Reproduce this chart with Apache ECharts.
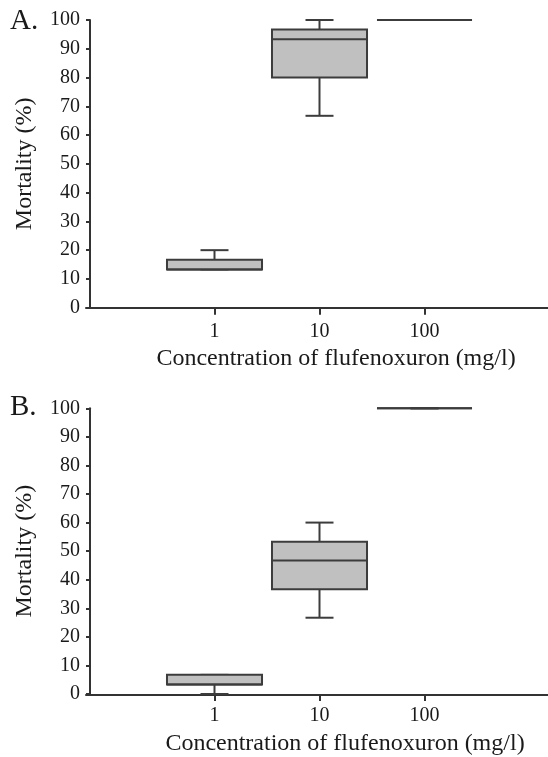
<!DOCTYPE html>
<html>
<head>
<meta charset="utf-8">
<script src="https://cdn.jsdelivr.net/npm/echarts@6/dist/echarts.min.js"></script>
<style>
  html, body { margin: 0; padding: 0; background: #fff; }
  #chart { width: 548px; height: 757px; }
</style>
</head>
<body>
<div id="chart"></div>
<script>
// concentrations (mg/l)
const categories = ["1", "10", "100"];
// [min, Q1, median, Q3, max] mortality (%)
const boxA = [
  [13.3, 13.3, 13.3, 16.7, 20],
  [66.7, 80, 93.3, 96.7, 100],
  [100, 100, 100, 100, 100],
];
const boxB = [
  [0, 3.3, 3.3, 6.7, 6.7],
  [26.7, 36.7, 46.7, 53.3, 60],
  [100, 100, 100, 100, 100],
];
const yTicks = [0, 10, 20, 30, 40, 50, 60, 70, 80, 90, 100];

const font = "Liberation Serif";
const ink = "#1a1a1a";
const lineColor = "#333";
const boxStroke = "#3c3c3c";

const toData = (rows) => rows.map((r, i) => [i].concat(r));

// box with short whisker caps, drawn through the axis scales
const renderBox = (params, api) => {
  const idx = api.value(0);
  const band = api.size([1, 0])[0];
  const boxW = band * 0.905;
  const capW = 28;
  const pMin = api.coord([idx, api.value(1)]);
  const pQ1 = api.coord([idx, api.value(2)]);
  const pMed = api.coord([idx, api.value(3)]);
  const pQ3 = api.coord([idx, api.value(4)]);
  const pMax = api.coord([idx, api.value(5)]);
  const cx = pQ1[0];
  const st = { stroke: boxStroke, lineWidth: 2 };
  return {
    type: "group",
    children: [
      { type: "line", shape: { x1: cx, y1: pMax[1], x2: cx, y2: pQ3[1] }, style: st },
      { type: "line", shape: { x1: cx, y1: pMin[1], x2: cx, y2: pQ1[1] }, style: st },
      { type: "line", shape: { x1: cx - capW / 2, y1: pMax[1], x2: cx + capW / 2, y2: pMax[1] }, style: st },
      { type: "line", shape: { x1: cx - capW / 2, y1: pMin[1], x2: cx + capW / 2, y2: pMin[1] }, style: st },
      {
        type: "rect",
        shape: { x: cx - boxW / 2, y: pQ3[1], width: boxW, height: pQ1[1] - pQ3[1] },
        style: { fill: "#c0c0c0", stroke: boxStroke, lineWidth: 2 },
      },
      { type: "line", shape: { x1: cx - boxW / 2, y1: pMed[1], x2: cx + boxW / 2, y2: pMed[1] }, style: st },
    ],
  };
};

const mainX = (gridIndex, nameGap, labelMargin, namePad) => ({
  type: "category",
  gridIndex: gridIndex,
  data: categories,
  boundaryGap: true,
  axisLine: { show: false },
  axisTick: { show: true, alignWithLabel: true, length: 7, lineStyle: { color: lineColor, width: 2 } },
  axisLabel: { fontFamily: font, fontSize: 20, color: ink, margin: labelMargin },
  splitLine: { show: false },
  name: "Concentration of flufenoxuron (mg/l)",
  nameLocation: "middle",
  nameGap: nameGap,
  nameTextStyle: { fontFamily: font, fontSize: 24, color: ink, padding: [0, 0, 0, namePad] },
});

const mainY = (gridIndex) => ({
  type: "value",
  gridIndex: gridIndex,
  min: 0,
  max: 100,
  interval: 10,
  offset: 72,
  axisLine: { show: true, lineStyle: { color: lineColor, width: 2 } },
  axisTick: { show: true, length: 4, lineStyle: { color: lineColor, width: 2 } },
  axisLabel: { fontFamily: font, fontSize: 20, color: ink, margin: 10, customValues: yTicks },
  splitLine: { show: false },
  name: "Mortality (%)",
  nameLocation: "middle",
  nameRotate: 90,
  nameGap: 53,
  nameTextStyle: { fontFamily: font, fontSize: 24, color: ink },
});

// full-width baseline under each panel
const baseX = (gridIndex) => ({
  type: "value",
  gridIndex: gridIndex,
  min: 0,
  max: 1,
  axisLine: { show: true, onZero: false, lineStyle: { color: lineColor, width: 2 } },
  axisTick: { show: false },
  axisLabel: { show: false },
  splitLine: { show: false },
});

const chart = echarts.init(document.getElementById("chart"), null, { renderer: "canvas" });

const options = {
  backgroundColor: "#fff",
  animation: false,
  title: [
    { text: "A.", left: 10, top: 7, padding: 0, textStyle: { fontFamily: font, fontSize: 29, fontWeight: "normal", color: ink } },
    { text: "B.", left: 10, top: 393, padding: 0, textStyle: { fontFamily: font, fontSize: 29, fontWeight: "normal", color: ink } },
  ],
  grid: [
    { left: 162, width: 315, top: 20, height: 287.7 },
    { left: 86, right: 0, top: 20, height: 287.7 },
    { left: 162, width: 315, top: 408.3, height: 286 },
    { left: 86, right: 0, top: 408.3, height: 286 },
  ],
  xAxis: [mainX(0, 39, 14, 33), baseX(1), mainX(2, 38, 12, 51), baseX(3)],
  yAxis: [
    mainY(0),
    { type: "value", gridIndex: 1, show: false },
    mainY(2),
    { type: "value", gridIndex: 3, show: false },
  ],
  series: [
    {
      name: "A",
      type: "custom",
      xAxisIndex: 0,
      yAxisIndex: 0,
      renderItem: renderBox,
      encode: { x: 0, y: [1, 2, 3, 4, 5] },
      data: toData(boxA),
    },
    {
      name: "B",
      type: "custom",
      xAxisIndex: 2,
      yAxisIndex: 2,
      renderItem: renderBox,
      encode: { x: 0, y: [1, 2, 3, 4, 5] },
      data: toData(boxB),
    },
  ],
};
chart.setOption(options);
</script>
</body>
</html>
